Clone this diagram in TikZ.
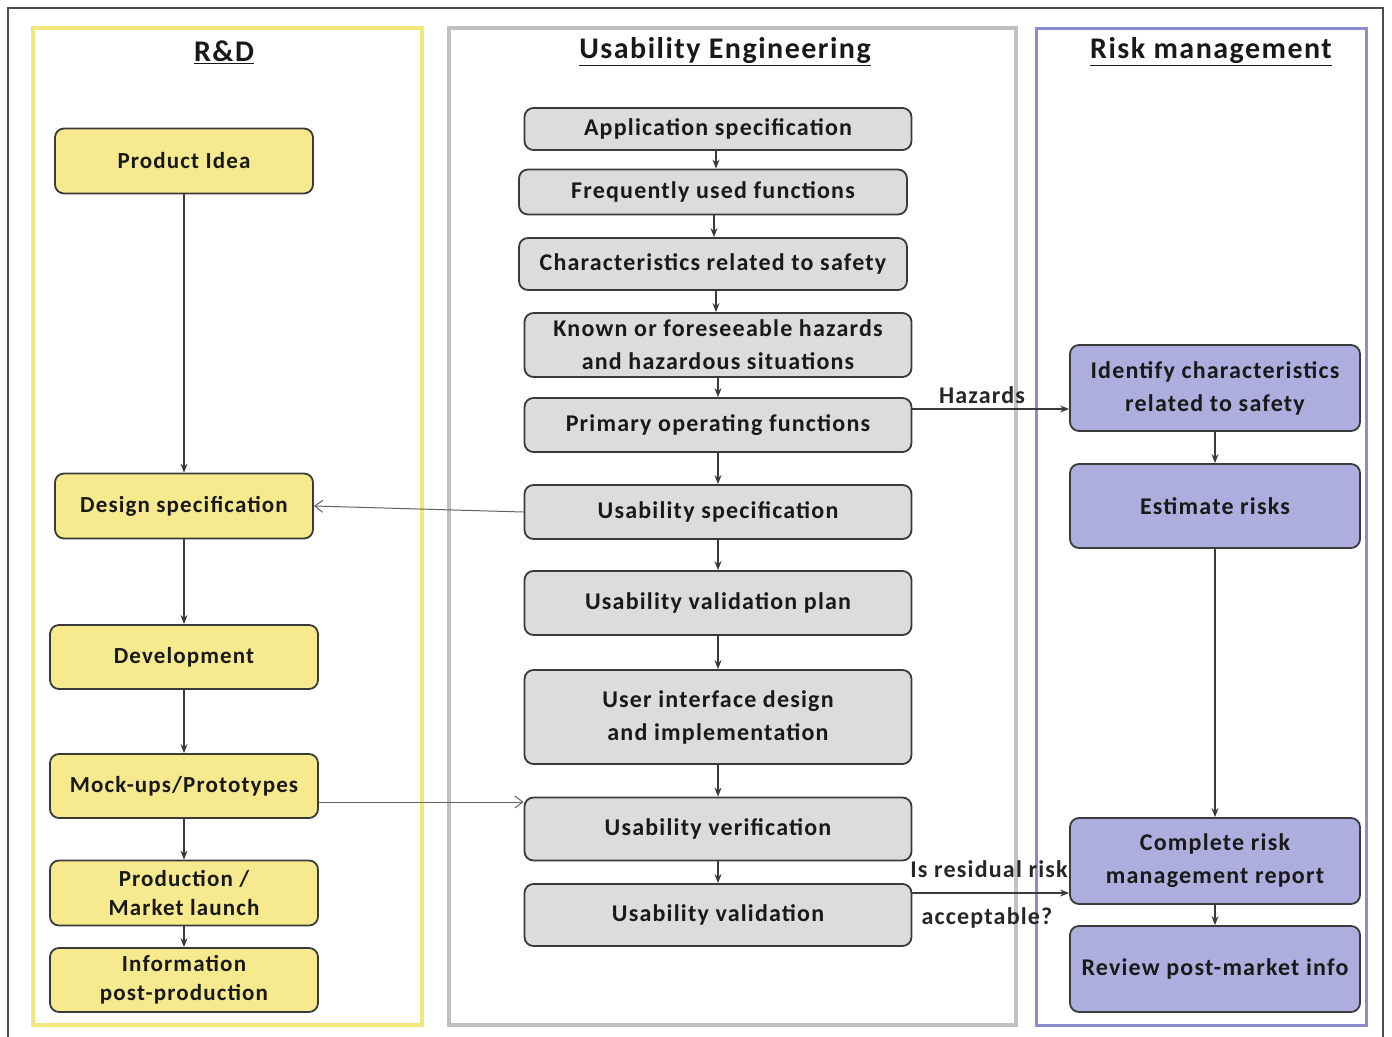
\documentclass[tikz,border=0pt]{standalone}
\usepackage{fontspec}
\setmainfont{Carlito}[LetterSpace=5]
\usetikzlibrary{arrows.meta}
\definecolor{yfill}{HTML}{F7EA8E}
\definecolor{ypanel}{HTML}{F0E878}
\definecolor{gfill}{HTML}{DCDCDC}
\definecolor{gpanel}{HTML}{C0C0C0}
\definecolor{pfill}{HTML}{AEAEDE}
\definecolor{ppanel}{HTML}{8C8CD0}
\definecolor{edge}{HTML}{3A3A3A}
\tikzset{
  box/.style={draw=edge, line width=1.8pt, rounded corners=9pt, align=center, inner sep=2pt,
     font=\fontsize{24}{33}\selectfont\bfseries, text=black!90},
  ybox/.style={box, fill=yfill, font=\fontsize{23}{29}\selectfont\bfseries},
  gbox/.style={box, fill=gfill},
  pbox/.style={box, fill=pfill},
  conn/.style={draw=edge, line width=1.2pt, -{Stealth[length=9pt,width=7pt]}},
  openconn/.style={draw=edge!80, line width=1pt, -{Straight Barb[length=8pt,width=12pt]}},
  ttl/.style={font=\fontsize{30}{34}\selectfont\bfseries, text=black!90},
  lbl/.style={font=\fontsize{24}{28}\selectfont\bfseries, text=black!85}
}
\begin{document}
\begin{tikzpicture}[x=1pt,y=-1pt]
\useasboundingbox (0,0) rectangle (1392,1036);
\fill[white] (0,0) rectangle (1392,1036);
% outer frame (open at bottom)
\draw[black!70, line width=1.5pt] (8,1040) -- (8,8) -- (1383,8) -- (1383,1040);
% panels
\draw[ypanel, line width=3.5pt] (33,28) rectangle (422,1025);
\draw[gpanel, line width=4pt] (449,28) rectangle (1016,1025);
\draw[ppanel, line width=3pt] (1036,28) rectangle (1366,1025);
% titles
\node[ttl] (t1) at (224,52) {\underline{R\&D}};
\node[ttl] (t2) at (725,52) {\underline{Usability Engineering}};
\node[ttl] (t3) at (1211,52) {\underline{Risk management}};
% R&D nodes
\node[ybox, minimum width=258pt, minimum height=65pt] (pi) at (184,161) {Product Idea};
\node[ybox, minimum width=258pt, minimum height=65pt] (ds) at (184,506) {Design specification};
\node[ybox, minimum width=268pt, minimum height=64pt] (dev) at (184,657) {Development};
\node[ybox, minimum width=268pt, minimum height=64pt] (mock) at (184,786) {Mock-ups/Prototypes};
\node[ybox, minimum width=268pt, minimum height=65pt] (prod) at (184,893) {Production /\\Market launch};
\node[ybox, minimum width=268pt, minimum height=64pt] (info) at (184,980) {Information\\post-production};
% Usability nodes
\node[gbox, minimum width=387pt, minimum height=42pt] (app) at (718,129) {Application specification};
\node[gbox, minimum width=388pt, minimum height=45pt] (freq) at (713,192) {Frequently used functions};
\node[gbox, minimum width=388pt, minimum height=52pt] (char) at (713,264) {Characteristics related to safety};
\node[gbox, minimum width=387pt, minimum height=64pt] (known) at (718,345) {Known or foreseeable hazards\\and hazardous situations};
\node[gbox, minimum width=387pt, minimum height=54pt] (prim) at (718,425) {Primary operating functions};
\node[gbox, minimum width=387pt, minimum height=54pt] (uspec) at (718,512) {Usability specification};
\node[gbox, minimum width=387pt, minimum height=64pt] (uplan) at (718,603) {Usability validation plan};
\node[gbox, minimum width=387pt, minimum height=94pt] (ui) at (718,717) {User interface design\\and implementation};
\node[gbox, minimum width=387pt, minimum height=63pt] (uver) at (718,829) {Usability verification};
\node[gbox, minimum width=387pt, minimum height=62pt] (uval) at (718,915) {Usability validation};
% Risk nodes
\node[pbox, minimum width=290pt, minimum height=86pt] (ident) at (1215,388) {Identify characteristics\\related to safety};
\node[pbox, minimum width=290pt, minimum height=84pt] (est) at (1215,506) {Estimate risks};
\node[pbox, minimum width=290pt, minimum height=86pt] (comp) at (1215,861) {Complete risk\\management report};
\node[pbox, minimum width=290pt, minimum height=86pt] (rev) at (1215,969) {Review post-market info};
% R&D connectors
\draw[conn] (pi) -- (ds);
\draw[conn] (ds) -- (dev);
\draw[conn] (dev) -- (mock);
\draw[conn] (mock) -- (prod);
\draw[conn] (prod) -- (info);
% Usability connectors
\draw[conn] (app.south -| 716,0) -- (freq.north -| 716,0);
\draw[conn] (freq.south -| 714,0) -- (char.north -| 714,0);
\draw[conn] (char.south -| 716,0) -- (known.north -| 716,0);
\draw[conn] (known.south -| 718,0) -- (prim.north -| 718,0);
\draw[conn] (prim) -- (uspec);
\draw[conn] (uspec) -- (uplan);
\draw[conn] (uplan) -- (ui);
\draw[conn] (ui) -- (uver);
\draw[conn] (uver) -- (uval);
% Risk connectors
\draw[conn] (ident) -- (est);
\draw[conn] (est) -- (comp);
\draw[conn] (comp) -- (rev);
% cross connectors
\draw[openconn] (uspec.west) -- (ds.east);
\coordinate (mk) at (mock.east |- 0,802);
\draw[openconn] (mk) -- (mk -| uver.west);
\coordinate (hz) at (prim.east |- 0,409);
\draw[conn] (hz) -- (hz -| ident.west);
\node[lbl] (hzl) at (982,395) {Hazards};
\coordinate (rr) at (uval.east |- 0,893);
\draw[conn] (rr) -- (rr -| comp.west);
\node[lbl] (rrl1) at (989,869) {Is residual risk};
\node[lbl] (rrl2) at (987,918) {acceptable?};
\end{tikzpicture}
\end{document}
